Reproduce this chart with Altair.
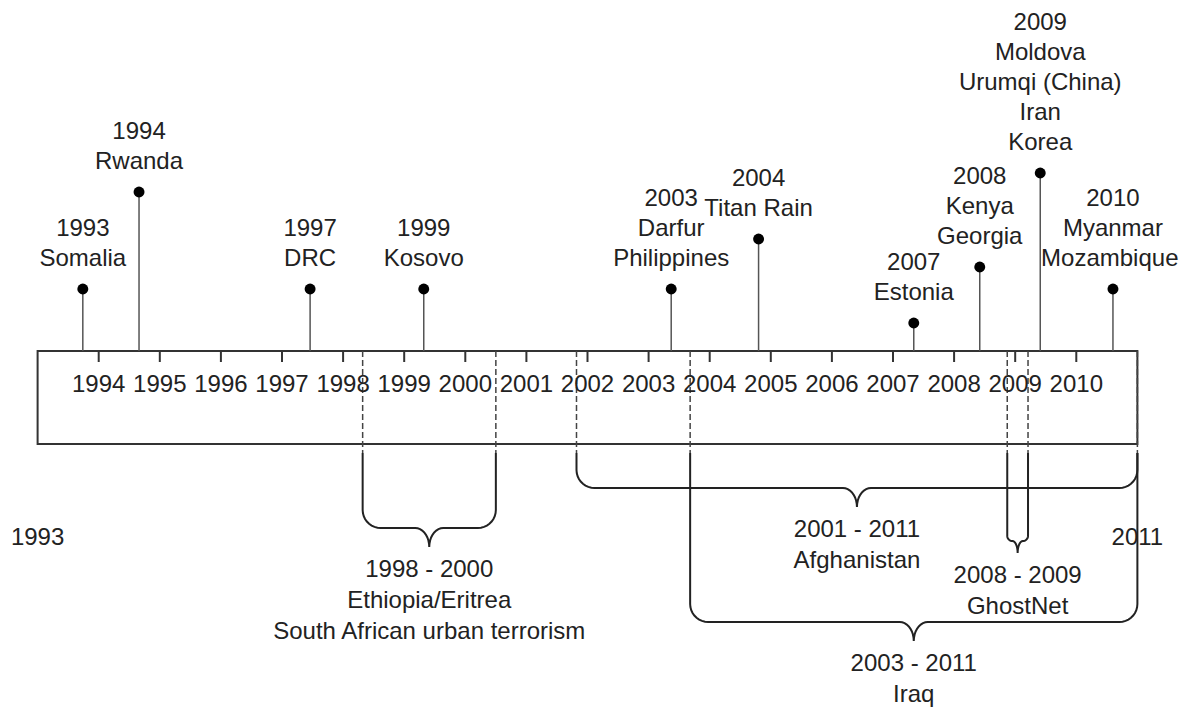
import altair as alt
import pandas as pd
import numpy as np

# ---------------- data ----------------
event_years = [1993.74, 1994.66, 1997.46, 1999.32, 2003.37, 2004.80, 2007.34, 2008.42, 2009.41, 2010.60]
event_heights = [62, 159, 62, 62, 62, 112, 28, 84, 178, 62]
event_labels = [
    "1993\nSomalia",
    "1994\nRwanda",
    "1997\nDRC",
    "1999\nKosovo",
    "2003\nDarfur\nPhilippines",
    "2004\nTitan Rain",
    "2007\nEstonia",
    "2008\nKenya\nGeorgia",
    "2009\nMoldova\nUrumqi (China)\nIran\nKorea",
    "2010\nMyanmar\nMozambique",
]

period_start = [1998.32, 2001.82, 2003.68, 2008.87]
period_end = [2000.50, 2011.00, 2011.00, 2009.21]
period_depth = [177, 137, 271, 190]
period_labels = [
    "1998 - 2000\nEthiopia/Eritrea\nSouth African urban terrorism",
    "2001 - 2011\nAfghanistan",
    "2003 - 2011\nIraq",
    "2008 - 2009\nGhostNet",
]

tick_years = list(range(1994, 2011))
axis_start, axis_end = 1993, 2011

# ---------------- layout ----------------
W, H = 1171, 690
X0, X1 = 1992.5155, 2011.681
Y0, Y1 = -347, 343
PXY = W / (X1 - X0)          # pixels per year
BOX_DEPTH = 93
BR_TOP = -102
FONT = "Liberation Sans"
FS = 24
TXT = "#222222"

xs = alt.Scale(domain=[X0, X1], nice=False, zero=False)
ys = alt.Scale(domain=[Y0, Y1], nice=False, zero=False)


def X(f="x"):
    return alt.X(f"{f}:Q", scale=xs, axis=None)


def Y(f="y"):
    return alt.Y(f"{f}:Q", scale=ys, axis=None)


# box
box_df = pd.DataFrame({"x": [axis_start], "x2": [axis_end], "y": [0], "y2": [-BOX_DEPTH]})
box = alt.Chart(box_df).mark_rect(fill="white", stroke="#333333", strokeWidth=2).encode(
    x=X(), x2="x2:Q", y=Y(), y2="y2:Q")

# ticks + year labels
tick_df = pd.DataFrame({"x": tick_years, "y": 0, "y2": -11, "ty": -34,
                        "label": [str(t) for t in tick_years]})
ticks = alt.Chart(tick_df).mark_rule(color="#333333", strokeWidth=2).encode(
    x=X(), y=Y(), y2="y2:Q")
tick_labels = alt.Chart(tick_df).mark_text(font=FONT, fontSize=FS, color=TXT, baseline="middle").encode(
    x=X(), y=Y("ty"), text="label:N")

# dashed guides
ends = sorted(set(period_start + period_end))
dash_df = pd.DataFrame({"x": ends, "y": 0, "y2": BR_TOP})
dashes = alt.Chart(dash_df).mark_rule(color="#444444", strokeWidth=1.5, strokeDash=[6, 3]).encode(
    x=X(), y=Y(), y2="y2:Q")

# end labels
end_df = pd.DataFrame({"x": [axis_start, axis_end], "y": -187,
                       "label": [str(axis_start), str(axis_end)]})
end_labels = alt.Chart(end_df).mark_text(font=FONT, fontSize=FS, color=TXT, baseline="middle").encode(
    x=X(), y=Y(), text="label:N")

# event stems, dots, labels
ev_df = pd.DataFrame({"x": event_years, "y": event_heights, "y2": 0})
stems = alt.Chart(ev_df).mark_rule(color="#555555", strokeWidth=1.5).encode(x=X(), y=Y(), y2="y2:Q")
dots = alt.Chart(ev_df).mark_circle(color="black", size=120, opacity=1).encode(x=X(), y=Y())


def fit_x(xc, text):
    # keep a centred label inside the drawing area
    half = 0.56 * FS * len(text) / 2 / PXY
    return min(xc, X1 - half - 2 / PXY)


rows = []
for yr, h, lab in zip(event_years, event_heights, event_labels):
    lines = lab.split("\n")
    n = len(lines)
    for i, ln in enumerate(lines):
        rows.append({"x": fit_x(yr, ln), "y": h + 30 + (n - 1 - i) * 30, "label": ln})
ev_lab = alt.Chart(pd.DataFrame(rows)).mark_text(font=FONT, fontSize=FS, color=TXT, baseline="middle").encode(
    x=X(), y=Y(), text="label:N")

# brackets
path = []
lab_rows = []
for k, (s, e, d, lab) in enumerate(zip(period_start, period_end, period_depth, period_labels)):
    Lp, Rp = (s - X0) * PXY, (e - X0) * PXY
    wpx = Rp - Lp
    r = min(18.0, wpx / 4)
    n = min(14.0, wpx / 4)
    tip = 19 if wpx > 60 else 12
    Hh = -d
    Mp = (Lp + Rp) / 2
    pts = [(Lp, BR_TOP), (Lp, Hh + r)]
    for t in np.linspace(np.pi, 1.5 * np.pi, 10)[1:]:
        pts.append((Lp + r + r * np.cos(t), Hh + r + r * np.sin(t)))
    pts.append((Mp - n, Hh))
    for t in np.linspace(0.5 * np.pi, 0, 10)[1:]:
        pts.append((Mp - n + n * np.cos(t), Hh - tip + tip * np.sin(t)))
    for t in np.linspace(np.pi, 0.5 * np.pi, 10)[1:]:
        pts.append((Mp + n + n * np.cos(t), Hh - tip + tip * np.sin(t)))
    pts.append((Rp - r, Hh))
    for t in np.linspace(1.5 * np.pi, 2 * np.pi, 10)[1:]:
        pts.append((Rp - r + r * np.cos(t), Hh + r + r * np.sin(t)))
    pts.append((Rp, BR_TOP))
    for j, (px, py) in enumerate(pts):
        path.append({"b": k, "o": j, "x": X0 + px / PXY, "y": py})
    for i, ln in enumerate(lab.split("\n")):
        lab_rows.append({"x": (s + e) / 2, "y": Hh - tip - 23 - i * 31, "label": ln})

brackets = alt.Chart(pd.DataFrame(path)).mark_line(color="#222222", strokeWidth=2).encode(
    x=X(), y=Y(), order="o:Q", detail="b:N")
br_lab = alt.Chart(pd.DataFrame(lab_rows)).mark_text(font=FONT, fontSize=FS, color=TXT, baseline="middle").encode(
    x=X(), y=Y(), text="label:N")

chart = alt.layer(box, dashes, ticks, tick_labels, end_labels, stems, dots, ev_lab, brackets, br_lab).properties(
    width=W, height=H,
    padding={"left": 0, "top": 0, "right": 0, "bottom": 10},
    autosize=alt.AutoSizeParams(type="none")
).configure_view(stroke=None)

chart.save("out.html", embed_options={"renderer": "svg", "actions": False})
